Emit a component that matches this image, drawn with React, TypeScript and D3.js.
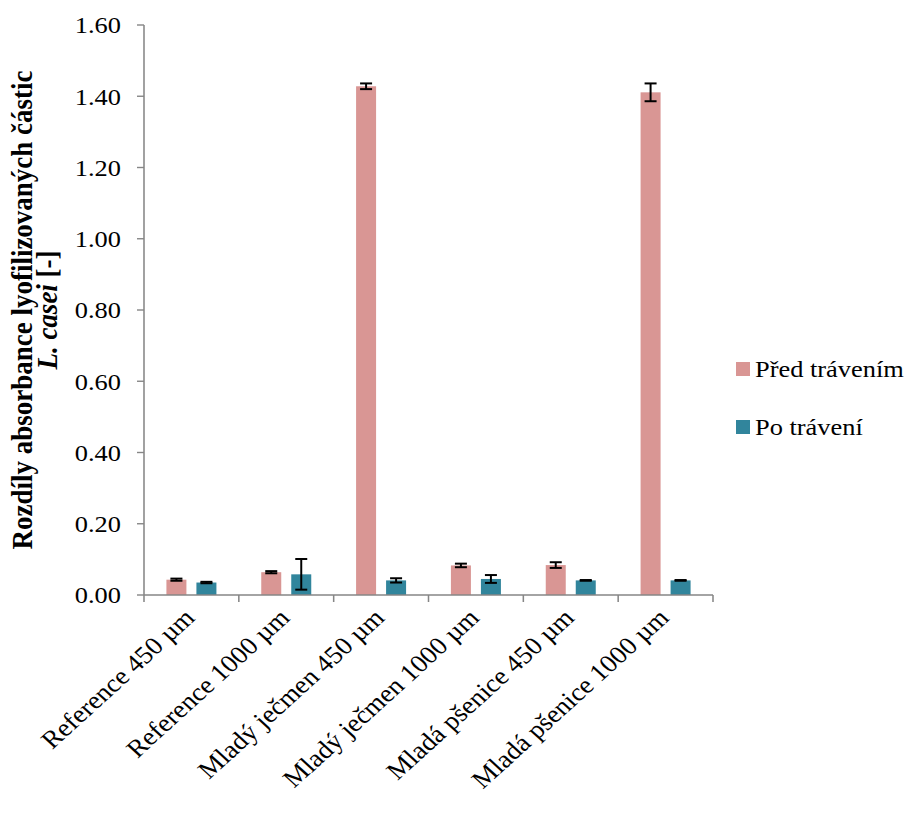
import React from "react";
import * as d3 from "d3";

const categories = [
  "Reference 450 µm",
  "Reference 1000 µm",
  "Mladý ječmen 450 µm",
  "Mladý ječmen 1000 µm",
  "Mladá pšenice 450 µm",
  "Mladá pšenice 1000 µm",
];
const seriesNames = ["Před trávením", "Po trávení"];
const before = [0.043, 0.064, 1.428, 0.083, 0.084, 1.411];
const beforeErr = [0.003, 0.003, 0.008, 0.005, 0.008, 0.025];
const after = [0.035, 0.058, 0.041, 0.045, 0.041, 0.041];
const afterErr = [0.002, 0.043, 0.006, 0.011, 0.001, 0.001];
const yTicks = [0, 0.2, 0.4, 0.6, 0.8, 1.0, 1.2, 1.4, 1.6];

const SX = 1.1;
const FONT = "'Liberation Serif', 'Times New Roman', serif";
const COLORS = ["#D99694", "#31859C"];
const AXIS = "#868686";

export default function App() {
  const x0 = 144 / SX;
  const x1 = 713 / SX;
  const y = d3.scaleLinear().domain([0, 1.6]).range([595, 25]);
  const xb = d3.scaleBand<string>().domain(categories).range([x0, x1]).padding(0);
  const bw = xb.bandwidth();
  const barW = 20 / SX;
  const off = 15 / SX;
  const capHalf = 6 / SX;
  const series = [
    { vals: before, errs: beforeErr },
    { vals: after, errs: afterErr },
  ];
  const bounds = categories.map((c) => xb(c)!).concat([x1]);

  return (
    <svg
      width={909}
      height={816}
      style={{ position: "absolute", left: 0, top: 0, background: "#fff" }}
      fontFamily={FONT}
    >
      <g transform={`scale(${SX},1)`}>
        {series.map((s, si) =>
          categories.map((c, i) => {
            const cx = xb(c)! + bw / 2 + (si === 0 ? -off : off);
            return (
              <rect
                key={`b${si}-${i}`}
                x={cx - barW / 2}
                y={y(s.vals[i])}
                width={barW}
                height={y(0) - y(s.vals[i])}
                fill={COLORS[si]}
              />
            );
          })
        )}
        {series.map((s, si) =>
          categories.map((c, i) => {
            const cx = xb(c)! + bw / 2 + (si === 0 ? -off : off);
            const hi = y(s.vals[i] + s.errs[i]);
            const lo = y(s.vals[i] - s.errs[i]);
            return (
              <g key={`e${si}-${i}`} stroke="#000" strokeWidth={2}>
                <line x1={cx} x2={cx} y1={hi} y2={lo} strokeWidth={1.8} />
                <line x1={cx - capHalf} x2={cx + capHalf} y1={hi} y2={hi} />
                <line x1={cx - capHalf} x2={cx + capHalf} y1={lo} y2={lo} />
              </g>
            );
          })
        )}
        <line x1={x0} x2={x0} y1={y(1.6)} y2={y(0)} stroke={AXIS} strokeWidth={1.4} />
        {yTicks.map((t) => (
          <g key={`yt${t}`}>
            <line x1={x0 - 7 / SX} x2={x0} y1={y(t)} y2={y(t)} stroke={AXIS} strokeWidth={1.4} />
            <text
              x={121 / SX}
              y={y(t)}
              dy="0.35em"
              textAnchor="end"
              fontSize={24}
              fill="#000"
            >
              {t.toFixed(2)}
            </text>
          </g>
        ))}
        <line x1={x0} x2={x1} y1={y(0)} y2={y(0)} stroke={AXIS} strokeWidth={1.4} />
        {bounds.map((b, i) => (
          <line key={`xt${i}`} x1={b} x2={b} y1={y(0)} y2={y(0) + 7} stroke={AXIS} strokeWidth={1.4} />
        ))}
        {categories.map((c) => {
          const cx = xb(c)! + bw / 2;
          return (
            <text
              key={`xl${c}`}
              transform={`translate(${cx - 2 / SX},${613}) rotate(-45)`}
              textAnchor="end"
              dy="0.35em"
              fontSize={25}
              fill="#000"
            >
              {c}
            </text>
          );
        })}
        <text
          transform={`translate(${22 / SX},310) rotate(-90)`}
          textAnchor="middle"
          dy="0.35em"
          fontSize={27}
          fontWeight="bold"
          fill="#000"
        >
          Rozdíly absorbance lyofilizovaných částic
        </text>
        <text
          transform={`translate(${47 / SX},310) rotate(-90)`}
          textAnchor="middle"
          dy="0.35em"
          fontSize={27}
          fontWeight="bold"
          fill="#000"
        >
          <tspan fontStyle="italic">L. casei</tspan> [-]
        </text>
        {seriesNames.map((n, i) => {
          const cy = 369 + i * 58;
          return (
            <g key={`lg${i}`}>
              <rect x={736 / SX} y={cy - 7} width={14 / SX} height={14} fill={COLORS[i]} />
              <text x={755 / SX} y={cy} dy="0.35em" fontSize={24} fill="#000">
                {n}
              </text>
            </g>
          );
        })}
      </g>
    </svg>
  );
}
